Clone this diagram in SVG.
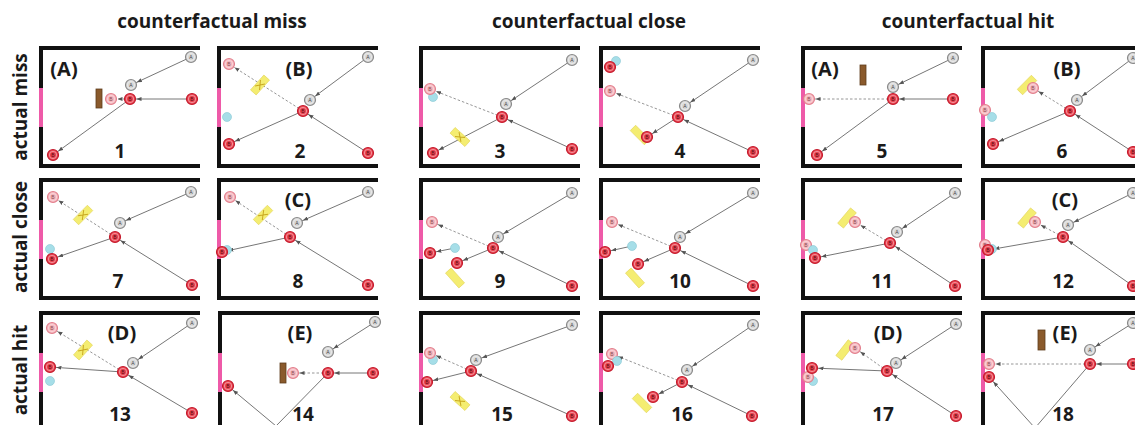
<svg xmlns="http://www.w3.org/2000/svg" xmlns:xlink="http://www.w3.org/1999/xlink" width="1135" height="425" viewBox="0 0 1135 425">
<style>
.hd{font-family:"Open Sans","Liberation Sans",sans-serif;font-weight:bold;font-size:19px;fill:#1a1a1a;text-anchor:middle}
.lab{font-family:"Open Sans","Liberation Sans",sans-serif;font-weight:bold;font-size:20px;fill:#1a1a1a;text-anchor:middle}
.num{font-family:"Open Sans","Liberation Sans",sans-serif;font-weight:bold;font-size:19px;fill:#1a1a1a;text-anchor:middle}
.bt{font-family:"Liberation Sans",sans-serif;font-size:5px;text-anchor:middle}
.c{stroke:#666;stroke-width:0.9;fill:none;marker-end:url(#ah)}
.d{stroke:#8a8a8a;stroke-width:0.9;fill:none;stroke-dasharray:2.5 2;marker-end:url(#ah)}
.brown{fill:#8a5a2c;stroke:#5e3c1c;stroke-width:0.8}
.wall{stroke:#111;stroke-width:4;fill:none}
.goal{stroke:#ee5aa8;stroke-width:4;fill:none}
</style>
<defs>
<marker id="ah" viewBox="0 0 5 4" refX="11.5" refY="2" markerWidth="5" markerHeight="4" markerUnits="userSpaceOnUse" orient="auto"><path d="M0,0 L5,2 L0,4z" fill="#555"/></marker>
<g id="walls"><path class="wall" d="M-2,0 H159 M0,0 V118 M-2,118 H159"/><path class="goal" d="M0,40 V79"/></g>
<g id="bA"><circle r="5.5" fill="#d8d8d8" stroke="#8a8a8a" stroke-width="1.2"/><circle r="3.7" fill="none" stroke="#f4f4f4" stroke-width="0.6"/><text y="1.8" class="bt" fill="#444">A</text></g>
<g id="bR"><circle r="5.5" fill="#e8424f" stroke="#c41a2c" stroke-width="1.2"/><circle r="3.7" fill="none" stroke="#f9c4ca" stroke-width="0.6"/><text y="1.8" class="bt" fill="#5a0a10">B</text></g>
<g id="bP"><circle r="5.5" fill="#f4b6bd" stroke="#e27e8c" stroke-width="1.1"/><circle r="3.7" fill="none" stroke="#fde4e7" stroke-width="0.6"/><text y="1.8" class="bt" fill="#8a4a52">B</text></g>
<g id="bC"><circle r="4.5" fill="#a6dee8" stroke="#86c6d2" stroke-width="0.6"/></g>
<g id="yb"><rect x="-10" y="-3.8" width="20" height="7.6" fill="#f4ec66" stroke="#e0d048" stroke-width="0.6" opacity="0.92"/></g>
<g id="ybx"><use href="#yb"/><path d="M-4,-3 L4,3 M-4,3 L4,-3" stroke="#c9a820" stroke-width="1"/></g>
</defs>
<rect width="1135" height="425" fill="#fff"/>

<g id="headers">
<text x="212" y="28" class="hd">counterfactual miss</text>
<text x="589" y="28" class="hd">counterfactual close</text>
<text x="968" y="28" class="hd">counterfactual hit</text>
<text transform="translate(27,107) rotate(-90)" class="hd">actual miss</text>
<text transform="translate(27,237) rotate(-90)" class="hd">actual close</text>
<text transform="translate(27,370) rotate(-90)" class="hd">actual hit</text>
</g>

<g id="panel-1">
<use href="#walls" x="41" y="48"/>
<g id="panel-1-connectors">
<line x1="191" y1="57" x2="131" y2="85" class="c"/>
<line x1="192" y1="99" x2="130" y2="99" class="c"/>
<line x1="130" y1="99" x2="53" y2="155" class="c"/>
<line x1="130" y1="99" x2="111" y2="99" class="d"/>
</g>
<rect x="96" y="89" width="6" height="19" class="brown"/>
<use href="#bA" x="191" y="57"/><use href="#bA" x="131" y="85"/><use href="#bR" x="130" y="99"/><use href="#bR" x="192" y="99"/><use href="#bP" x="111" y="99"/><use href="#bR" x="53" y="155"/>
<text x="64" y="76" class="lab">(A)</text>
<text x="120" y="158" class="num">1</text>
</g>

<g id="panel-2">
<use href="#walls" x="219" y="48"/>
<g id="panel-2-connectors">
<line x1="368" y1="57" x2="310" y2="100" class="c"/>
<line x1="368" y1="153" x2="303" y2="111" class="c"/>
<line x1="303" y1="111" x2="229" y2="144" class="c"/>
<line x1="303" y1="111" x2="229" y2="64" class="d"/>
</g>
<use href="#ybx" transform="translate(260,85) rotate(-48)"/>
<use href="#bC" x="227" y="117"/>
<use href="#bP" x="229" y="64"/><use href="#bA" x="368" y="57"/><use href="#bA" x="310" y="100"/><use href="#bR" x="303" y="111"/><use href="#bR" x="229" y="144"/><use href="#bR" x="368" y="153"/>
<text x="299" y="76" class="lab">(B)</text>
<text x="300" y="158" class="num">2</text>
</g>

<g id="panel-3">
<use href="#walls" x="421" y="48"/>
<g id="panel-3-connectors">
<line x1="572" y1="60" x2="506" y2="104" class="c"/>
<line x1="572" y1="149" x2="502" y2="117" class="c"/>
<line x1="502" y1="117" x2="433" y2="153" class="c"/>
<line x1="502" y1="117" x2="430" y2="89" class="d"/>
</g>
<use href="#ybx" transform="translate(460,137) rotate(42)"/>
<use href="#bC" x="433" y="97"/>
<use href="#bP" x="430" y="89"/><use href="#bA" x="572" y="60"/><use href="#bA" x="506" y="104"/><use href="#bR" x="502" y="117"/><use href="#bR" x="572" y="149"/><use href="#bR" x="433" y="153"/>
<text x="500" y="158" class="num">3</text>
</g>

<g id="panel-4">
<use href="#walls" x="601" y="48"/>
<g id="panel-4-connectors">
<line x1="753" y1="60" x2="685" y2="106" class="c"/>
<line x1="753" y1="152" x2="678" y2="117" class="c"/>
<line x1="678" y1="117" x2="647" y2="137" class="c"/>
<line x1="678" y1="117" x2="610" y2="91" class="d"/>
</g>
<use href="#yb" transform="translate(640,135) rotate(45)"/>
<use href="#bC" x="616" y="61"/><use href="#bR" x="610" y="67"/>
<use href="#bP" x="610" y="91"/><use href="#bA" x="753" y="60"/><use href="#bA" x="685" y="106"/><use href="#bR" x="678" y="117"/><use href="#bR" x="753" y="152"/><use href="#bR" x="647" y="137"/>
<text x="680" y="158" class="num">4</text>
</g>

<g id="panel-5">
<use href="#walls" x="803" y="48"/>
<g id="panel-5-connectors">
<line x1="953" y1="58" x2="893" y2="87" class="c"/>
<line x1="953" y1="99" x2="893" y2="99" class="c"/>
<line x1="893" y1="99" x2="817" y2="155" class="c"/>
<line x1="893" y1="99" x2="809" y2="99" class="d"/>
</g>
<rect x="860" y="65" width="6" height="20" class="brown"/>
<use href="#bA" x="953" y="58"/><use href="#bA" x="893" y="87"/><use href="#bR" x="893" y="99"/><use href="#bR" x="953" y="99"/><use href="#bP" x="809" y="99"/><use href="#bR" x="817" y="155"/>
<text x="825" y="76" class="lab">(A)</text>
<text x="882" y="158" class="num">5</text>
</g>

<g id="panel-6">
<use href="#walls" x="983" y="48"/>
<g id="panel-6-connectors">
<line x1="1133" y1="58" x2="1077" y2="100" class="c"/>
<line x1="1133" y1="152" x2="1070" y2="111" class="c"/>
<line x1="1070" y1="111" x2="993" y2="144" class="c"/>
<line x1="1070" y1="111" x2="1033" y2="88" class="d"/>
</g>
<use href="#yb" transform="translate(1027,85) rotate(-45)"/>
<use href="#bP" x="985" y="110"/><use href="#bC" x="992" y="117"/>
<use href="#bA" x="1133" y="58"/><use href="#bA" x="1077" y="100"/><use href="#bR" x="1070" y="111"/><use href="#bR" x="993" y="144"/><use href="#bR" x="1133" y="152"/><use href="#bP" x="1033" y="88"/>
<text x="1067" y="76" class="lab">(B)</text>
<text x="1062" y="158" class="num">6</text>
</g>

<g id="panel-7">
<use href="#walls" x="41" y="180"/>
<g id="panel-7-connectors">
<line x1="191" y1="192" x2="120" y2="223" class="c"/>
<line x1="192" y1="285" x2="115" y2="237" class="c"/>
<line x1="115" y1="237" x2="52" y2="259" class="c"/>
<line x1="115" y1="237" x2="53" y2="197" class="d"/>
</g>
<use href="#ybx" transform="translate(83,215) rotate(-45)"/>
<use href="#bC" x="50" y="249"/><use href="#bR" x="52" y="259"/>
<use href="#bP" x="53" y="197"/><use href="#bA" x="191" y="192"/><use href="#bA" x="120" y="223"/><use href="#bR" x="115" y="237"/><use href="#bR" x="192" y="285"/>
<text x="118" y="288" class="num">7</text>
</g>

<g id="panel-8">
<use href="#walls" x="219" y="180"/>
<g id="panel-8-connectors">
<line x1="368" y1="192" x2="297" y2="223" class="c"/>
<line x1="368" y1="285" x2="290" y2="237" class="c"/>
<line x1="290" y1="237" x2="222" y2="252" class="c"/>
<line x1="290" y1="237" x2="230" y2="197" class="d"/>
</g>
<use href="#ybx" transform="translate(263,215) rotate(-45)"/>
<use href="#bC" x="227" y="250"/><use href="#bR" x="222" y="252"/>
<use href="#bP" x="230" y="197"/><use href="#bA" x="368" y="192"/><use href="#bA" x="297" y="223"/><use href="#bR" x="290" y="237"/><use href="#bR" x="368" y="285"/>
<text x="298" y="207" class="lab">(C)</text>
<text x="298" y="288" class="num">8</text>
</g>

<g id="panel-9">
<use href="#walls" x="421" y="180"/>
<g id="panel-9-connectors">
<line x1="572" y1="193" x2="498" y2="237" class="c"/>
<line x1="572" y1="286" x2="493" y2="248" class="c"/>
<line x1="493" y1="248" x2="457" y2="263" class="c"/>
<line x1="493" y1="248" x2="432" y2="222" class="d"/>
<line x1="455" y1="248" x2="430" y2="253" class="c"/>
</g>
<use href="#yb" transform="translate(455,278) rotate(48)"/>
<use href="#bP" x="432" y="222"/><use href="#bA" x="572" y="193"/><use href="#bA" x="498" y="237"/><use href="#bR" x="493" y="248"/><use href="#bC" x="455" y="248"/><use href="#bR" x="430" y="253"/><use href="#bR" x="457" y="263"/><use href="#bR" x="572" y="286"/>
<text x="500" y="288" class="num">9</text>
</g>

<g id="panel-10">
<use href="#walls" x="601" y="180"/>
<g id="panel-10-connectors">
<line x1="753" y1="193" x2="680" y2="237" class="c"/>
<line x1="753" y1="286" x2="675" y2="248" class="c"/>
<line x1="675" y1="248" x2="638" y2="264" class="c"/>
<line x1="675" y1="248" x2="612" y2="222" class="d"/>
<line x1="632" y1="246" x2="605" y2="252" class="c"/>
</g>
<use href="#yb" transform="translate(635,278) rotate(48)"/>
<use href="#bP" x="612" y="222"/><use href="#bA" x="753" y="193"/><use href="#bA" x="680" y="237"/><use href="#bR" x="675" y="248"/><use href="#bC" x="632" y="246"/><use href="#bR" x="605" y="252"/><use href="#bR" x="638" y="264"/><use href="#bR" x="753" y="286"/>
<text x="680" y="288" class="num">10</text>
</g>

<g id="panel-11">
<use href="#walls" x="803" y="180"/>
<g id="panel-11-connectors">
<line x1="955" y1="193" x2="897" y2="232" class="c"/>
<line x1="955" y1="286" x2="890" y2="243" class="c"/>
<line x1="890" y1="243" x2="815" y2="258" class="c"/>
<line x1="890" y1="243" x2="855" y2="222" class="d"/>
</g>
<use href="#yb" transform="translate(847,218) rotate(-50)"/>
<use href="#bP" x="806" y="245"/><use href="#bC" x="813" y="250"/><use href="#bR" x="815" y="258"/>
<use href="#bP" x="855" y="222"/><use href="#bA" x="955" y="193"/><use href="#bA" x="897" y="232"/><use href="#bR" x="890" y="243"/><use href="#bR" x="955" y="286"/>
<text x="882" y="288" class="num">11</text>
</g>

<g id="panel-12">
<use href="#walls" x="983" y="180"/>
<g id="panel-12-connectors">
<line x1="1133" y1="193" x2="1068" y2="225" class="c"/>
<line x1="1133" y1="286" x2="1063" y2="237" class="c"/>
<line x1="1063" y1="237" x2="988" y2="250" class="c"/>
<line x1="1063" y1="237" x2="1035" y2="222" class="d"/>
</g>
<use href="#yb" transform="translate(1027,218) rotate(-50)"/>
<use href="#bP" x="985" y="245"/><use href="#bC" x="992" y="249"/><use href="#bR" x="988" y="250"/>
<use href="#bP" x="1035" y="222"/><use href="#bA" x="1133" y="193"/><use href="#bA" x="1068" y="225"/><use href="#bR" x="1063" y="237"/><use href="#bR" x="1133" y="286"/>
<text x="1065" y="207" class="lab">(C)</text>
<text x="1063" y="288" class="num">12</text>
</g>

<g id="panel-13">
<use href="#walls" x="41" y="313"/>
<g id="panel-13-connectors">
<line x1="192" y1="323" x2="133" y2="363" class="c"/>
<line x1="192" y1="413" x2="123" y2="372" class="c"/>
<line x1="123" y1="372" x2="50" y2="367" class="c"/>
<line x1="123" y1="372" x2="52" y2="328" class="d"/>
</g>
<use href="#ybx" transform="translate(83,350) rotate(-48)"/>
<use href="#bP" x="52" y="328"/><use href="#bA" x="192" y="323"/><use href="#bA" x="133" y="363"/><use href="#bR" x="123" y="372"/><use href="#bR" x="50" y="367"/><use href="#bC" x="50" y="381"/><use href="#bR" x="192" y="413"/>
<text x="122" y="340" class="lab">(D)</text>
<text x="120" y="421" class="num">13</text>
</g>

<g id="panel-14">
<use href="#walls" x="220" y="313"/>
<g id="panel-14-connectors">
<line x1="375" y1="322" x2="328" y2="352" class="c"/>
<line x1="373" y1="373" x2="328" y2="373" class="c"/>
<line x1="328" y1="373" x2="293" y2="373" class="d"/>
<polyline points="328,373 276,426 228,386" class="c"/>
</g>
<rect x="280" y="363" width="6" height="20" class="brown"/>
<use href="#bA" x="375" y="322"/><use href="#bA" x="328" y="352"/><use href="#bP" x="293" y="373"/><use href="#bR" x="328" y="373"/><use href="#bR" x="373" y="373"/><use href="#bR" x="228" y="386"/>
<text x="300" y="340" class="lab">(E)</text>
<text x="303" y="421" class="num">14</text>
</g>

<g id="panel-15">
<use href="#walls" x="421" y="313"/>
<g id="panel-15-connectors">
<line x1="572" y1="325" x2="476" y2="360" class="c"/>
<line x1="572" y1="416" x2="471" y2="371" class="c"/>
<line x1="471" y1="371" x2="427" y2="382" class="c"/>
<line x1="471" y1="371" x2="430" y2="353" class="d"/>
</g>
<use href="#ybx" transform="translate(460,401) rotate(42)"/>
<use href="#bC" x="433" y="360"/>
<use href="#bP" x="430" y="353"/><use href="#bA" x="572" y="325"/><use href="#bA" x="476" y="360"/><use href="#bR" x="471" y="371"/><use href="#bR" x="427" y="382"/><use href="#bR" x="572" y="416"/>
<text x="502" y="421" class="num">15</text>
</g>

<g id="panel-16">
<use href="#walls" x="601" y="313"/>
<g id="panel-16-connectors">
<line x1="753" y1="325" x2="687" y2="370" class="c"/>
<line x1="752" y1="416" x2="682" y2="382" class="c"/>
<line x1="682" y1="382" x2="653" y2="397" class="c"/>
<line x1="682" y1="382" x2="612" y2="354" class="d"/>
</g>
<use href="#yb" transform="translate(642,403) rotate(45)"/>
<use href="#bP" x="612" y="354"/><use href="#bC" x="617" y="361"/><use href="#bR" x="608" y="366"/>
<use href="#bA" x="753" y="325"/><use href="#bA" x="687" y="370"/><use href="#bR" x="682" y="382"/><use href="#bR" x="653" y="397"/><use href="#bR" x="752" y="416"/>
<text x="682" y="421" class="num">16</text>
</g>

<g id="panel-17">
<use href="#walls" x="803" y="313"/>
<g id="panel-17-connectors">
<line x1="956" y1="324" x2="896" y2="363" class="c"/>
<line x1="956" y1="416" x2="887" y2="371" class="c"/>
<line x1="887" y1="371" x2="812" y2="368" class="c"/>
<line x1="887" y1="371" x2="855" y2="348" class="d"/>
</g>
<use href="#yb" transform="translate(845,350) rotate(-52)"/>
<use href="#bC" x="813" y="381"/><use href="#bP" x="808" y="377"/><use href="#bR" x="812" y="368"/>
<use href="#bP" x="855" y="348"/><use href="#bA" x="956" y="324"/><use href="#bA" x="896" y="363"/><use href="#bR" x="887" y="371"/><use href="#bR" x="956" y="416"/>
<text x="888" y="340" class="lab">(D)</text>
<text x="883" y="421" class="num">17</text>
</g>

<g id="panel-18">
<use href="#walls" x="983" y="313"/>
<g id="panel-18-connectors">
<line x1="1133" y1="323" x2="1090" y2="350" class="c"/>
<line x1="1133" y1="364" x2="1090" y2="364" class="c"/>
<line x1="1090" y1="364" x2="989" y2="364" class="d"/>
<polyline points="1090,364 1035,428 989,377" class="c"/>
</g>
<rect x="1038" y="330" width="7" height="20" class="brown"/>
<use href="#bA" x="1133" y="323"/><use href="#bA" x="1090" y="350"/><use href="#bR" x="1090" y="364"/><use href="#bR" x="1133" y="364"/><use href="#bP" x="989" y="364"/><use href="#bR" x="989" y="377"/>
<text x="1065" y="340" class="lab">(E)</text>
<text x="1063" y="421" class="num">18</text>
</g>
</svg>
